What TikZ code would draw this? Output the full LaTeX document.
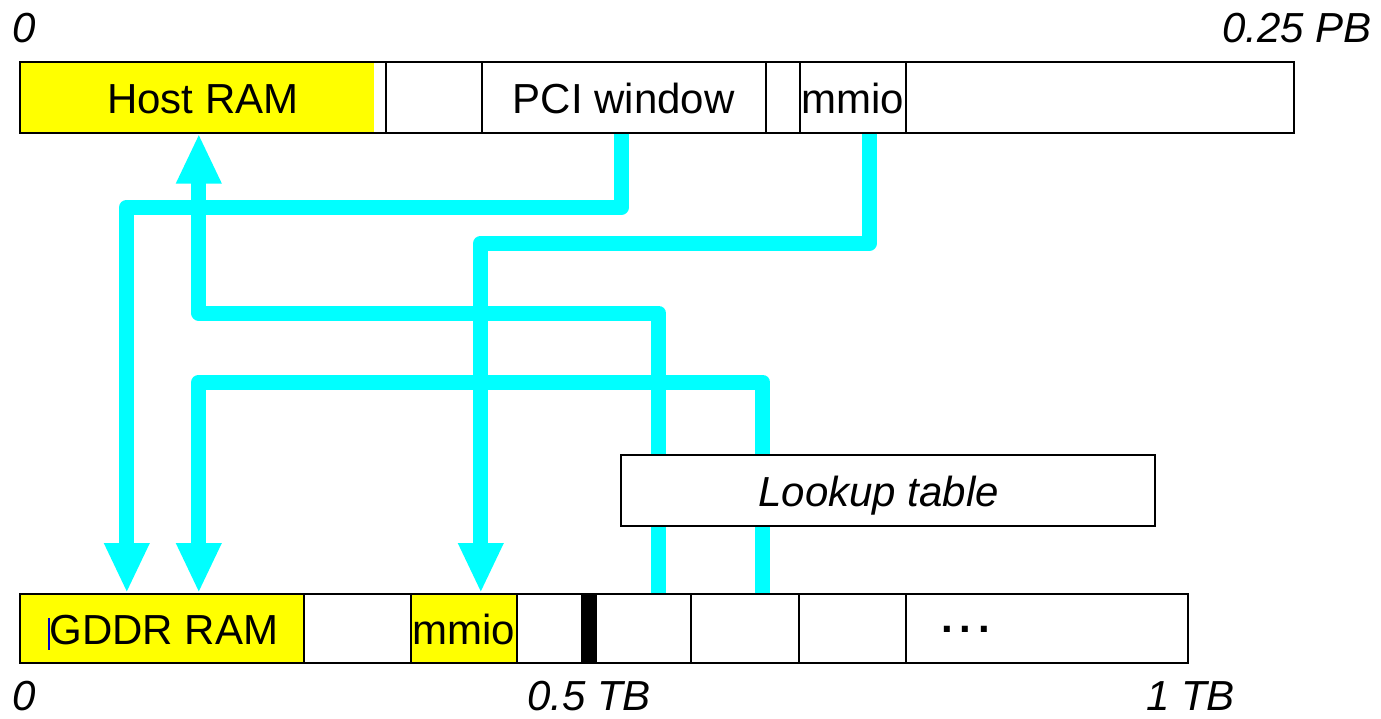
\documentclass[tikz,border=0pt]{standalone}
\usepackage{fontspec}
\setmainfont{Liberation Sans}
\usetikzlibrary{arrows.meta,calc}
\definecolor{wirecyan}{RGB}{0,255,255}
\definecolor{memyellow}{RGB}{255,255,0}
\begin{document}
\begin{tikzpicture}[x=1pt,y=-1pt,
  font=\fontsize{42}{50}\selectfont,
  cell/.style={draw=black,line width=1.6pt,inner sep=0pt,anchor=north west,
    text height=33pt,text depth=0pt},
  topcell/.style={cell,minimum height=71pt},
  botcell/.style={cell,minimum height=69pt},
  axis/.style={font=\fontsize{42}{50}\selectfont\itshape,inner sep=0pt},
  wire/.style={draw=wirecyan,line width=15pt,line join=round},
  tip/.style={-{Triangle[width=42pt,length=50pt]}}
]
\useasboundingbox (0,0) rectangle (1381,718);

% yellow area of host RAM
\fill[memyellow] (19,61) rectangle (374,132);

% top address space
\node[topcell,minimum width=366pt] (hram) at (19,61) {Host RAM};
\node[topcell,minimum width=96pt]  (t2)   at (385,61) {};
\node[topcell,minimum width=284pt] (pci)  at (481,61) {PCI window};
\node[topcell,minimum width=34pt]  (t4)   at (765,61) {};
\node[topcell,minimum width=106pt] (mmiot) at (799,61) {mmio};
\node[topcell,minimum width=388pt] (t6)   at (905,61) {};

% bottom address space
\node[botcell,minimum width=284pt,fill=memyellow] (gddr) at (19,593) {\rule{4pt}{0pt}GDDR RAM};
\node[botcell,minimum width=107pt] (b2) at (303,593) {};
\node[botcell,minimum width=106pt,fill=memyellow] (mmiob) at (410,593) {mmio};
\node[botcell,minimum width=65pt]  (b4) at (516,593) {};
\node[botcell,minimum width=14pt,fill=black] (blk) at (581,593) {};
\node[botcell,minimum width=95pt]  (b5) at (595,593) {};
\node[botcell,minimum width=108pt] (b6) at (690,593) {};
\node[botcell,minimum width=107pt] (b7) at (798,593) {};
\node[botcell,minimum width=282pt] (b8) at (905,593) {};
\node[anchor=base west,inner sep=0pt,font=\fontsize{42}{50}\selectfont\bfseries] (dots) at (941,632) {.\hspace{7pt}.\hspace{7pt}.};
\draw[blue!80!black,line width=1.5pt] (49,618) -- (49,650);

% axis labels
\node[axis,anchor=base west] (a0t) at (12,42) {0};
\node[axis,anchor=base east] (a1t) at (1372,42) {0.25 PB};
\node[axis,anchor=base west] (a0b) at (12,710) {0};
\node[axis,anchor=base] (a5b) at (589,710) {0.5 TB};
\node[axis,anchor=base east] (a1b) at (1235,710) {1 TB};

% wires
\coordinate (h1) at (0,207);
\coordinate (h2) at (0,243);
\coordinate (h3) at (0,313);
\coordinate (h4) at (0,382);
\coordinate (w1) at ([xshift=-2pt]pci.south);
\coordinate (w2) at ([xshift=17pt]mmiot.south);
\coordinate (w3) at ([xshift=15.5pt]b5.north);
\coordinate (w4) at ([xshift=18pt]b6.north);

\draw[wire,tip] (w1) -- (w1 |- h1) -| ([xshift=-35pt]gddr.north);
\draw[wire,tip] (w2) -- (w2 |- h2) -| ([xshift=17pt]mmiob.north);
\draw[wire,tip] (w3) -- (w3 |- h3) -| ([xshift=-4pt]hram.south);
\draw[wire,tip] (w4) -- (w4 |- h4) -| ([xshift=37pt]gddr.north);

% lookup table
\node[cell,minimum width=534pt,minimum height=71pt,fill=white,
  font=\fontsize{42}{50}\selectfont\itshape] (lut) at (620,454) {Lookup table\rule{18pt}{0pt}};
\end{tikzpicture}
\end{document}
